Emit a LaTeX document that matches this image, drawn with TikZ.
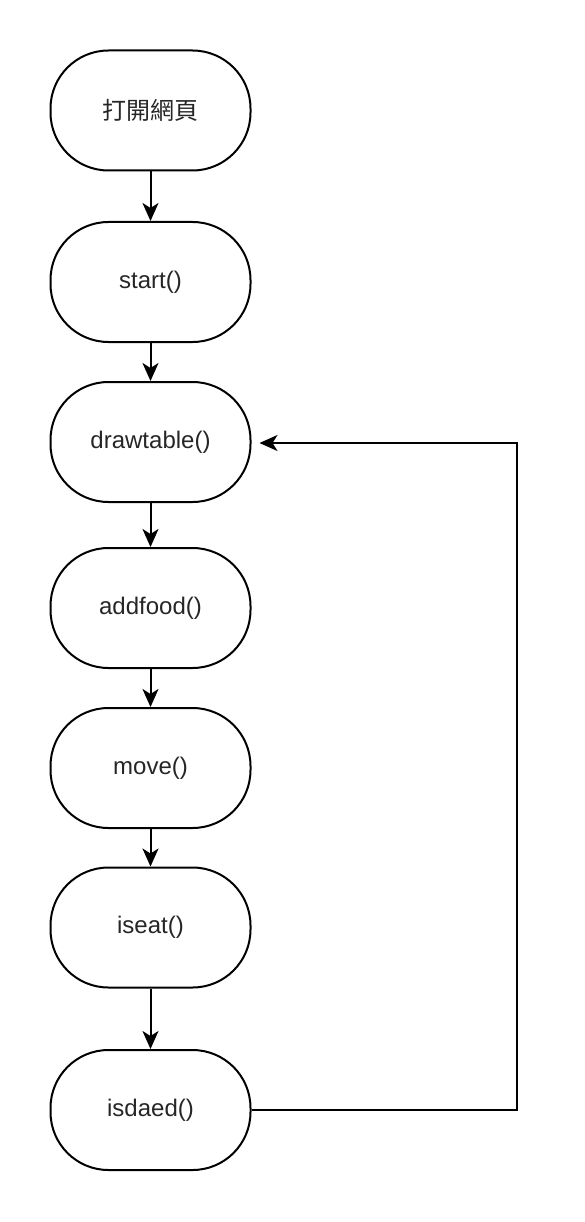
\documentclass[tikz,border=0pt]{standalone}
\usepackage{fontspec}
\setmainfont{Liberation Sans}
\newfontfamily\cjk{Noto Sans CJK TC}
\usetikzlibrary{arrows.meta}
\begin{document}
\begin{tikzpicture}[x=1pt,y=-1pt,
  term/.style={draw,line width=2pt,rounded corners=58pt,minimum width=200pt,minimum height=120pt,inner sep=0pt,font=\fontsize{24}{28}\selectfont,text=black!85},
  flow/.style={draw,line width=2pt,-{Stealth[length=18pt,width=16pt,inset=5pt]}}]
\useasboundingbox (0,0) rectangle (584,1222);
\node[term] (n1) at (150.5,110.5) {\cjk 打開網頁};
\node[term] (n2) at (150.5,282) {start()};
\node[term] (n3) at (150.5,442) {drawtable()};
\node[term] (n4) at (150.5,608) {addfood()};
\node[term] (n5) at (150.5,768) {move()};
\node[term] (n6) at (150.5,927.5) {iseat()};
\node[term] (n7) at (150.5,1110) {isdaed()};
\draw[flow] (n1) -- (n2);
\draw[flow] (n2) -- (n3);
\draw[flow] (n3) -- (n4);
\draw[flow] (n4) -- (n5);
\draw[flow] (n5) -- (n6);
\draw[flow] (n6) -- (n7);
\coordinate (c1) at (517,1110);
\coordinate (c2) at (517,443);
\draw[flow,shorten >=8pt] (n7.east) -- (c1) -- (c2) -- (n3.east |- c2);
\end{tikzpicture}
\end{document}
